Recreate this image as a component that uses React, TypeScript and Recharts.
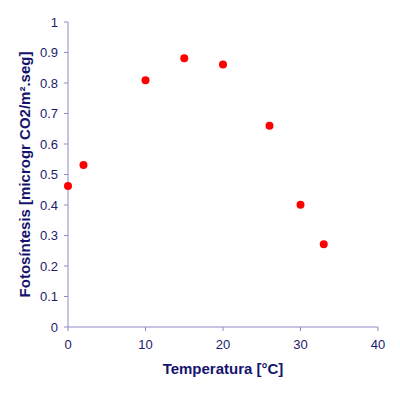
import React from 'react';
import { ScatterChart, Scatter, XAxis, YAxis, Label } from 'recharts';

const temperatures = [0, 2, 10, 15, 20, 26, 30, 33];
const photosynthesis = [0.462, 0.531, 0.809, 0.881, 0.861, 0.66, 0.401, 0.271];
const xTicks = [0, 10, 20, 30, 40];
const yTicks = [0, 0.1, 0.2, 0.3, 0.4, 0.5, 0.6, 0.7, 0.8, 0.9, 1];

const data = temperatures.map((t, i) => ({ x: t, y: photosynthesis[i] }));

const axisColor = '#8c8cc8';
const textColor = '#1c1c6a';
const titleColor = '#14146e';
const font = 'Liberation Sans, Arial, sans-serif';

const Dot = (props: any) => <circle cx={props.cx} cy={props.cy} r={4} fill="#ff0000" />;

export default function App() {
  return (
    <div style={{ margin: -8, width: 400, height: 393, background: '#fff' }}>
      <ScatterChart width={400} height={393} margin={{ top: 22, right: 22, left: 0, bottom: 0 }}>
        <XAxis
          type="number"
          dataKey="x"
          domain={[0, 40]}
          ticks={xTicks}
          height={66}
          tickSize={4}
          tickMargin={9}
          stroke={axisColor}
          tick={{ fill: textColor, fontSize: 13, fontFamily: font }}
        >
          <Label
            content={(p: any) => {
              const vb = p.viewBox;
              return (
                <text x={vb.x + vb.width / 2} y={368} textAnchor="middle" dominantBaseline="central"
                  fill={titleColor} fontSize={15} fontWeight="bold" fontFamily={font}>
                  Temperatura [°C]
                </text>
              );
            }}
          />
        </XAxis>
        <YAxis
          type="number"
          dataKey="y"
          domain={[0, 1]}
          ticks={yTicks}
          width={68}
          tickSize={4}
          tickMargin={6}
          stroke={axisColor}
          tick={{ fill: textColor, fontSize: 13, fontFamily: font }}
        >
          <Label
            content={(p: any) => {
              const vb = p.viewBox;
              const cx = 24;
              const cy = vb.y + vb.height / 2;
              return (
                <text x={cx} y={cy} transform={`rotate(-90 ${cx} ${cy})`} textAnchor="middle" dominantBaseline="central"
                  fill={titleColor} fontSize={15} fontWeight="bold" fontFamily={font}>
                  Fotosíntesis [microgr CO2/m².seg]
                </text>
              );
            }}
          />
        </YAxis>
        <Scatter data={data} shape={Dot} isAnimationActive={false} />
      </ScatterChart>
    </div>
  );
}
